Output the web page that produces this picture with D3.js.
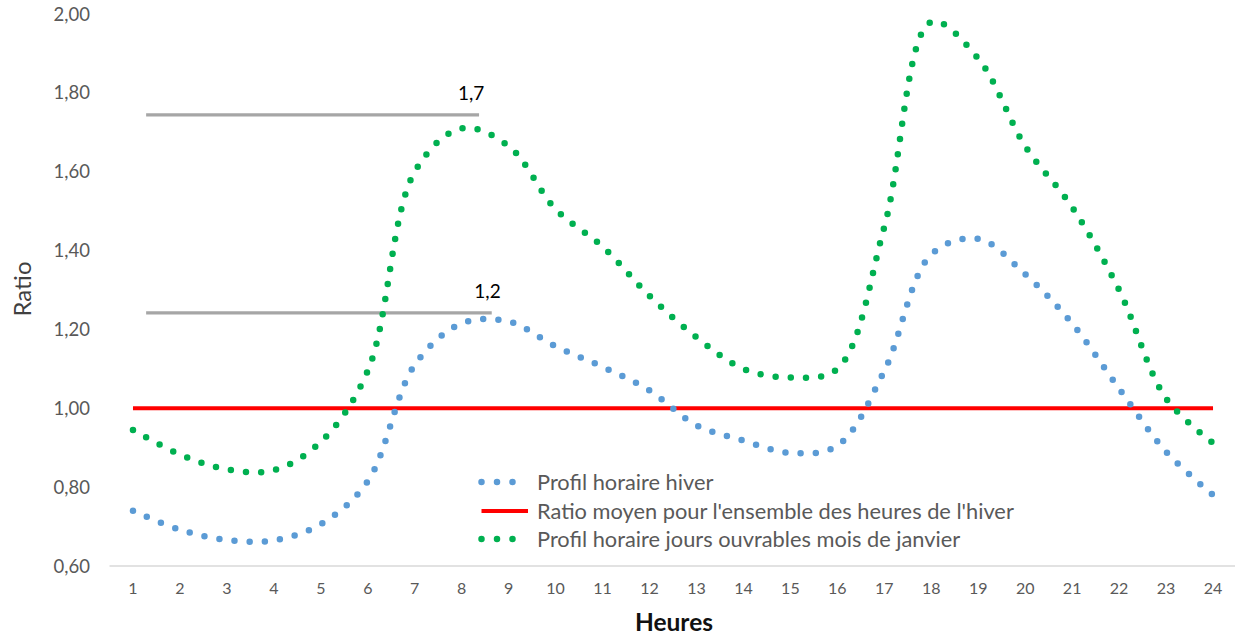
<!DOCTYPE html>
<html>
<head>
<meta charset="utf-8">
<script src="https://cdn.jsdelivr.net/npm/d3@7"></script>
<style>
  html, body { margin: 0; padding: 0; background: #fff; }
  svg { display: block; }
  text { font-family: Lato, "Open Sans", sans-serif; }
</style>
</head>
<body>
<svg id="chart" width="1235" height="636"></svg>
<script>
// ---- data ----
const hours = ["1","2","3","4","5","6","7","8","9","10","11","12","13","14","15","16","17","18","19","20","21","22","23","24"];
const profilHiver = [0.74,0.692,0.666,0.665,0.706,0.815,1.11,1.215,1.22,1.157,1.105,1.045,0.957,0.918,0.887,0.905,1.095,1.39,1.43,1.34,1.215,1.05,0.89,0.78];
const ratioMoyen = [1,1,1,1,1,1,1,1,1,1,1,1,1,1,1,1,1,1,1,1,1,1,1,1];
const profilJanvier = [0.945,0.883,0.845,0.843,0.915,1.095,1.60,1.71,1.665,1.505,1.41,1.285,1.18,1.10,1.078,1.10,1.46,1.98,1.887,1.665,1.51,1.30,1.025,0.912];
const yTicks = [0.6,0.8,1.0,1.2,1.4,1.6,1.8,2.0];
const seriesNames = ["Profil horaire hiver","Ratio moyen pour l'ensemble des heures de l'hiver","Profil horaire jours ouvrables mois de janvier"];
// annotation lines (value, from hour, to hour, label, label hour)
const refValues = [1.744, 1.242];
const refFrom = [1.28, 1.28];
const refTo = [8.37, 8.64];
const refLabels = ["1,7", "1,2"];
const refLabelAt = [8.2, 8.55];

// ---- layout ----
const svg = d3.select("#chart");
const band = d3.scaleBand().domain(hours).range([109.5, 1236.5]).padding(0);
const xc = h => band(h) + band.bandwidth() / 2;
const xh = d3.scaleLinear().domain([1, 24]).range([xc("1"), xc("24")]);
const y = d3.scaleLinear().domain([0.6, 2.0]).range([566, 14]);
const fmt = v => d3.format(".2f")(v).replace(".", ",");

// x axis line
svg.append("line")
  .attr("x1", 109.5).attr("x2", 1236.5)
  .attr("y1", y(0.6)).attr("y2", y(0.6))
  .attr("stroke", "#D9D9D9").attr("stroke-width", 1.3);

// x tick labels
svg.append("g").selectAll("text").data(hours).join("text")
  .attr("x", d => xc(d)).attr("y", 594)
  .attr("text-anchor", "middle")
  .attr("font-size", 16).attr("fill", "#595959")
  .text(d => d);

// y tick labels
svg.append("g").selectAll("text").data(yTicks).join("text")
  .attr("x", 90).attr("y", d => y(d) + 6.5)
  .attr("text-anchor", "end")
  .attr("font-size", 18.5).attr("fill", "#595959")
  .text(d => fmt(d));

// axis titles
svg.append("text")
  .attr("transform", "translate(31,289) rotate(-90)")
  .attr("text-anchor", "middle")
  .attr("font-size", 24).attr("fill", "#404040")
  .text("Ratio");
svg.append("text")
  .attr("x", 674).attr("y", 631)
  .attr("text-anchor", "middle")
  .attr("font-size", 24.5).attr("font-weight", "bold").attr("fill", "#111")
  .text("Heures");

// annotation lines
refValues.forEach((v, i) => {
  svg.append("line")
    .attr("x1", xh(refFrom[i])).attr("x2", xh(refTo[i]))
    .attr("y1", y(v)).attr("y2", y(v))
    .attr("stroke", "#A6A6A6").attr("stroke-width", 3.3);
  svg.append("text")
    .attr("x", xh(refLabelAt[i])).attr("y", y(v) - 15)
    .attr("text-anchor", "middle")
    .attr("font-size", 19).attr("fill", "#000")
    .text(refLabels[i]);
});

const line = d3.line()
  .x((d, i) => xc(hours[i]))
  .y(d => y(d))
  .curve(d3.curveCatmullRom.alpha(0.5));

// red mean line
svg.append("path").datum(ratioMoyen)
  .attr("d", d3.line().x((d, i) => xc(hours[i])).y(d => y(d)))
  .attr("fill", "none").attr("stroke", "#FF0000").attr("stroke-width", 4);

// dotted series
const dotted = [
  {vals: profilHiver, color: "#5B9BD5"},
  {vals: profilJanvier, color: "#00B050"}
];
dotted.forEach(s => {
  svg.append("path").datum(s.vals)
    .attr("d", line)
    .attr("fill", "none").attr("stroke", s.color)
    .attr("stroke-width", 6.5)
    .attr("stroke-linecap", "round")
    .attr("stroke-dasharray", "0 15.2");
});

// legend
const legColors = ["#5B9BD5", "#FF0000", "#00B050"];
const legDotted = [true, false, true];
const legRowY = [482, 511, 539];
seriesNames.forEach((name, i) => {
  const g = svg.append("g");
  const p = g.append("line")
    .attr("x1", 481.5).attr("x2", 528)
    .attr("y1", legRowY[i]).attr("y2", legRowY[i])
    .attr("stroke", legColors[i]);
  if (legDotted[i]) {
    p.attr("stroke-width", 6.5).attr("stroke-linecap", "round").attr("stroke-dasharray", "0 15.5");
  } else {
    p.attr("stroke-width", 4);
  }
  g.append("text")
    .attr("x", 537).attr("y", legRowY[i] + 7.5)
    .attr("font-size", 21.8).attr("fill", "#595959")
    .text(name);
});
</script>
</body>
</html>
